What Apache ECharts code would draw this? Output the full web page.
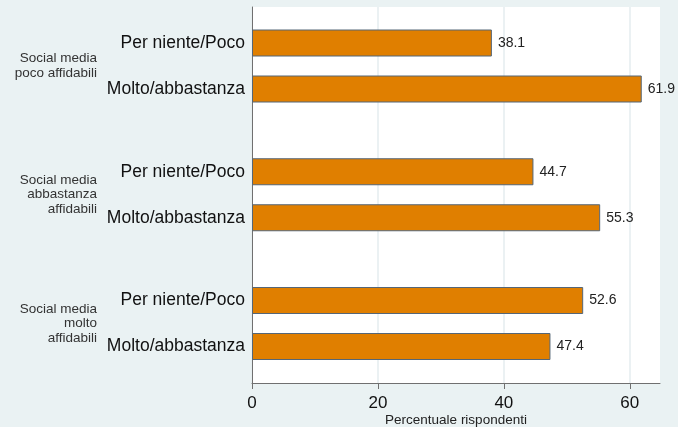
<!DOCTYPE html>
<html>
<head>
<meta charset="utf-8">
<script src="https://cdn.jsdelivr.net/npm/echarts@6/dist/echarts.min.js"></script>
<style>
  html, body { margin: 0; padding: 0; background: #eaf2f3; }
  #chart { width: 678px; height: 427px; }
</style>
</head>
<body>
<div id="chart"></div>
<script>
const groups = ['Social media\npoco affidabili', 'Social media\nabbastanza\naffidabili', 'Social media\nmolto\naffidabili'];
const answers = ['Per niente/Poco', 'Molto/abbastanza'];
const values = [
  [38.1, 61.9],
  [44.7, 55.3],
  [52.6, 47.4]
];
const xTicks = [0, 20, 40, 60];

const font = 'Liberation Sans, Arial, sans-serif';
const xMax = 64.8;
const left = 252, right = 18;

const chart = echarts.init(document.getElementById('chart'), null, { renderer: 'canvas' });

// grid 0 = white plot area with the x axis, grids 1..3 = one per group
const grid = [{
  left: left, right: right, top: 7, bottom: 44, outerBoundsMode: 'none',
  show: true, backgroundColor: '#ffffff', borderWidth: 0
}];
const xAxis = [{
  gridIndex: 0, type: 'value', min: 0, max: xMax, interval: 20,
  name: 'Percentuale rispondenti', nameLocation: 'middle', nameGap: 30,
  nameMoveOverlap: false,
  nameTextStyle: { fontFamily: font, fontSize: 13.5, color: '#222' },
  axisLine: { show: true, lineStyle: { color: '#707070', width: 1 } },
  axisTick: { show: true, length: 6, customValues: xTicks, lineStyle: { color: '#707070' } },
  axisLabel: {
    fontFamily: font, fontSize: 17, color: '#111', margin: 12,
    customValues: xTicks
  },
  splitLine: { show: true, lineStyle: { color: '#e4ecef', width: 1.5 } }
}];
const yAxis = [{
  gridIndex: 0, type: 'value', min: 0, max: 1,
  axisLine: { show: true, lineStyle: { color: '#707070', width: 1 } },
  axisTick: { show: false }, axisLabel: { show: false }, splitLine: { show: false }
}];
const series = [];

groups.forEach(function (g, i) {
  const gi = i + 1;
  grid.push({ left: left, right: right, top: 20 + i * 128.75, height: 92, outerBoundsMode: 'none' });
  xAxis.push({ gridIndex: gi, type: 'value', min: 0, max: xMax, show: false });
  yAxis.push({
    gridIndex: gi, type: 'category', inverse: true, data: answers,
    name: g, nameLocation: 'middle', nameRotate: 0, nameGap: 155,
    nameMoveOverlap: false,
    nameTextStyle: {
      fontFamily: font, fontSize: 13.5, color: '#333', align: 'right',
      verticalAlign: 'middle', lineHeight: 14.5
    },
    axisLine: { show: false }, axisTick: { show: false },
    axisLabel: { fontFamily: font, fontSize: 17.5, color: '#111', margin: 7 }
  });
  series.push({
    type: 'bar', xAxisIndex: gi, yAxisIndex: gi,
    data: values[i], barWidth: 27,
    itemStyle: { color: '#e07f00', borderColor: '#556677', borderWidth: 1 },
    label: {
      show: true, position: 'right', distance: 6,
      fontFamily: font, fontSize: 14, color: '#222',
      formatter: p => p.value.toFixed(1)
    }
  });
});

chart.setOption({
  backgroundColor: '#eaf2f3',
  animation: false,
  grid: grid,
  xAxis: xAxis,
  yAxis: yAxis,
  series: series
});
</script>
</body>
</html>
